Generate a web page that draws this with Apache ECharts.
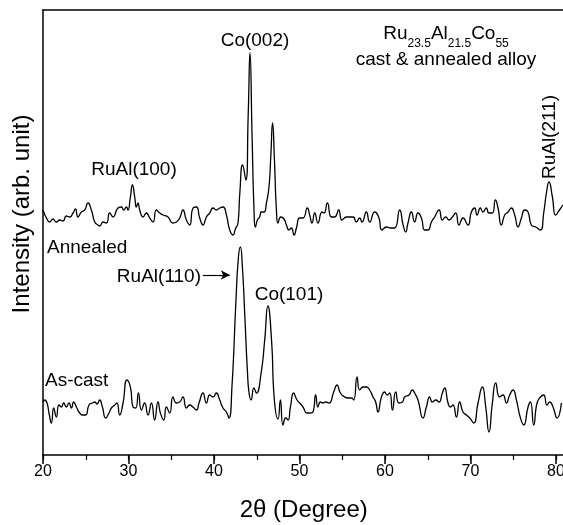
<!DOCTYPE html>
<html>
<head>
<meta charset="utf-8">
<script src="https://cdn.jsdelivr.net/npm/echarts@6/dist/echarts.min.js"></script>
<style>
  html, body { margin: 0; padding: 0; background: #fff; }
  #chart { width: 563px; height: 525px; }
</style>
</head>
<body>
<div id="chart"></div>
<script>
// XRD scans of the Ru23.5Al21.5Co55 alloy: [2θ (deg), intensity (arb. unit)]
const annealedScan = [
  [20.00,245],[20.40,237],[20.78,233],[21.17,236],[21.56,233],[21.95,235],[22.34,234],[22.73,239],
  [23.12,238],[23.51,242],[23.79,246],[24.09,238],[24.49,243],[24.88,245],[25.26,252],[25.66,245],
  [26.05,233],[26.43,230],[26.63,229],[27.02,233],[27.42,232],[27.80,242],[28.19,238],[28.77,247],
  [29.17,248],[29.44,245],[29.75,248],[29.94,245],[30.22,258],[30.46,270],[30.73,258],[30.92,248],
  [31.11,252],[31.31,245],[31.70,238],[32.09,242],[32.48,237],[32.87,233],[33.26,245],[33.65,242],
  [34.04,240],[34.62,238],[35.20,232],[35.60,233],[35.99,237],[36.37,245],[36.77,235],[37.16,230],
  [37.55,247],[37.94,248],[38.33,237],[38.72,230],[39.11,238],[39.50,242],[39.89,247],[40.28,245],
  [40.67,247],[41.06,248],[41.45,240],[41.84,225],[42.23,220],[42.50,226],[42.81,232],[43.02,262],
  [43.35,290],[43.72,275],[44.00,340],[44.21,402],[44.45,320],[44.68,245],[44.84,228],[45.08,235],
  [45.34,238],[45.54,243],[45.85,243],[46.13,252],[46.43,268],[46.65,300],[46.85,332],[47.07,295],
  [47.30,245],[47.49,232],[47.80,238],[48.19,236],[48.47,230],[48.77,225],[49.05,227],[49.36,220],
  [49.64,227],[50.02,237],[50.41,237],[50.92,247],[51.19,240],[51.46,232],[51.78,242],[52.16,232],
  [52.63,243],[52.87,242],[53.26,252],[53.73,238],[54.12,238],[54.58,245],[54.97,235],[55.49,238],
  [56.26,238],[56.65,233],[57.04,237],[57.31,233],[57.82,243],[58.21,233],[58.80,243],[59.26,238],
  [59.65,225],[60.16,228],[60.67,227],[61.13,227],[61.72,245],[62.12,230],[62.42,223],[62.69,232],
  [63.09,243],[63.47,233],[63.86,242],[64.26,237],[64.64,225],[65.03,225],[65.43,233],[65.81,238],
  [66.32,245],[66.71,235],[67.10,238],[67.49,235],[67.88,238],[68.27,242],[68.65,230],[69.12,237],
  [69.71,230],[70.10,243],[70.49,247],[70.76,240],[71.16,247],[71.46,243],[71.85,247],[72.16,242],
  [72.56,242],[72.91,255],[73.22,247],[73.61,230],[74.00,240],[74.39,243],[74.78,247],[75.17,240],
  [75.56,228],[75.95,237],[76.34,245],[76.73,243],[77.12,230],[77.62,228],[78.18,225],[78.56,242],
  [78.88,262],[79.18,273],[79.58,258],[79.96,240],[80.40,245],[80.80,250]
];

const asCastScan = [
  [20.00,53],[20.20,55],[20.47,52],[20.70,42],[20.98,32],[21.25,47],[21.56,38],[21.87,50],
  [22.15,48],[22.42,52],[22.73,48],[23.04,52],[23.32,47],[23.59,53],[23.91,48],[24.21,43],
  [24.61,40],[24.99,40],[25.38,50],[25.78,52],[26.05,53],[26.32,51],[26.63,55],[26.95,48],
  [27.33,37],[27.72,42],[28.00,47],[28.39,50],[28.65,52],[28.97,40],[29.36,52],[29.82,75],
  [30.22,68],[30.53,48],[30.84,47],[31.16,62],[31.51,45],[31.89,52],[32.28,40],[32.68,52],
  [33.06,35],[33.45,53],[33.73,42],[34.12,35],[34.43,48],[34.82,42],[35.20,58],[35.60,52],
  [35.99,53],[36.37,58],[36.77,47],[37.16,50],[37.54,48],[37.94,45],[38.25,52],[38.71,62],
  [39.11,52],[39.50,60],[39.88,58],[40.28,62],[40.67,55],[41.05,47],[41.45,43],[41.75,37],
  [42.10,68],[42.57,155],[42.86,198],[43.08,208],[43.32,188],[43.61,138],[43.92,82],[44.10,62],
  [44.33,55],[44.67,67],[44.96,62],[45.51,82],[45.93,115],[46.30,149],[46.73,115],[47.06,55],
  [47.49,36],[47.77,55],[48.07,30],[48.39,37],[48.66,35],[48.94,48],[49.32,62],[49.71,55],
  [50.02,52],[50.41,48],[50.88,42],[51.27,42],[51.58,43],[51.89,60],[52.16,48],[52.44,53],
  [52.75,52],[53.06,53],[53.45,52],[54.00,63],[54.39,70],[54.78,62],[55.29,58],[55.67,57],
  [56.07,57],[56.34,55],[56.73,78],[57.04,65],[57.43,68],[57.82,68],[58.21,65],[58.60,58],
  [58.91,53],[59.18,43],[59.58,58],[59.96,63],[60.24,60],[60.55,62],[60.87,45],[61.25,63],
  [61.64,52],[62.04,53],[62.30,58],[62.81,60],[63.20,65],[63.47,62],[63.86,55],[64.44,37],
  [64.84,48],[65.23,58],[65.54,53],[65.93,55],[66.32,53],[66.71,62],[66.98,67],[67.37,52],
  [67.65,48],[67.95,50],[68.35,38],[68.73,53],[69.12,43],[69.52,40],[69.91,37],[70.37,32],
  [70.88,52],[71.39,68],[71.78,48],[72.16,23],[72.56,52],[72.95,72],[73.41,58],[73.80,60],
  [74.20,52],[74.58,60],[74.97,65],[75.37,55],[75.84,37],[76.22,30],[76.73,48],[77.01,53],
  [77.39,30],[77.78,52],[78.18,58],[78.56,60],[78.95,50],[79.26,53],[79.65,48],[80.12,37],
  [80.63,52]
];

// Bottom axis tick labels
const angleTicks = [20, 30, 40, 50, 60, 70, 80];

// Arrow pointing at the RuAl(110) reflection: [start, end] in [2θ, intensity]
const ruAl110Arrow = [[38.7, 180], [41.85, 180]];

const FONT = '"Liberation Sans", Arial, Helvetica, sans-serif';
const LABEL_FONT = '19px ' + FONT;
const chart = echarts.init(document.getElementById('chart'), null, { renderer: 'canvas' });

const gridBox = { left: 43, top: 10, width: 521.55, height: 445 };

function label(text, x, y, align, rotation) {
  return {
    type: 'text', x: x, y: y, rotation: rotation || 0,
    style: { text: text, fill: '#000', font: LABEL_FONT, align: align || 'center', verticalAlign: 'middle' }
  };
}

const option = {
  backgroundColor: '#ffffff',
  animation: false,
  grid: Object.assign({ containLabel: false, outerBoundsMode: 'none' }, gridBox),
  xAxis: [
    {
      type: 'value', min: 20, max: 81, interval: 10, position: 'bottom',
      axisLine: { show: true, lineStyle: { color: '#000', width: 1.5 } },
      axisTick: { show: true, inside: false, length: 9, lineStyle: { color: '#000', width: 1.5 } },
      axisLabel: {
        show: true, margin: 9, color: '#000', fontSize: 16, fontFamily: FONT,
        showMaxLabel: false,
        formatter: v => (angleTicks.indexOf(v) >= 0 ? String(v) : '')
      },
      splitLine: { show: false },
      name: '2\u03b8 (Degree)', nameLocation: 'middle', nameGap: 43,
      nameTextStyle: { color: '#000', fontSize: 24, fontFamily: FONT }
    },
    {
      type: 'value', min: 20, max: 81, interval: 5, position: 'bottom',
      axisLine: { show: false },
      axisTick: { show: true, inside: false, length: 5, lineStyle: { color: '#000', width: 1.2 } },
      axisLabel: { show: false },
      splitLine: { show: false }
    },
    {
      type: 'value', min: 20, max: 81, position: 'top',
      axisLine: { show: true, lineStyle: { color: '#000', width: 1.5 } },
      axisTick: { show: false }, axisLabel: { show: false }, splitLine: { show: false }
    }
  ],
  yAxis: {
    type: 'value', min: 0, max: 445,
    axisLine: { show: true, lineStyle: { color: '#000', width: 1.5 } },
    axisTick: { show: false }, axisLabel: { show: false }, splitLine: { show: false }
  },
  series: [
    {
      name: 'Annealed', type: 'line', xAxisIndex: 0, data: annealedScan,
      showSymbol: false, smooth: 0.55, clip: true,
      lineStyle: { color: '#000', width: 1.3 }
    },
    {
      name: 'As-cast', type: 'line', xAxisIndex: 0, data: asCastScan,
      showSymbol: false, smooth: 0.55, clip: true,
      lineStyle: { color: '#000', width: 1.3 },
      markLine: {
        silent: true, symbol: ['none', 'arrow'], symbolSize: [7, 9],
        label: { show: false },
        lineStyle: { color: '#000', width: 1.2, type: 'solid' },
        data: [[{ coord: ruAl110Arrow[0] }, { coord: ruAl110Arrow[1] }]]
      }
    }
  ],
  graphic: [
    {
      type: 'text', x: 22, y: 214, rotation: Math.PI / 2,
      style: { text: 'Intensity (arb. unit)', fill: '#000', font: '24px ' + FONT, align: 'center', verticalAlign: 'middle' }
    },
    label('Co(002)', 255, 41),
    {
      type: 'text', x: 446, y: 24,
      style: {
        text: '{m|Ru}{s|23.5}{m|Al}{s|21.5}{m|Co}{s|55}',
        align: 'center', verticalAlign: 'top',
        rich: {
          m: { fontSize: 19, fontFamily: FONT, fill: '#000', color: '#000', lineHeight: 19, verticalAlign: 'top' },
          s: { fontSize: 12, fontFamily: FONT, fill: '#000', color: '#000', lineHeight: 12, verticalAlign: 'top', padding: [14, 0, 0, 0] }
        }
      }
    },
    label('cast & annealed alloy', 446, 60),
    label('RuAl(100)', 134, 170),
    label('RuAl(211)', 550, 137, 'center', Math.PI / 2),
    label('Annealed', 47, 248, 'left'),
    label('RuAl(110)', 201, 277, 'right'),
    label('Co(101)', 289, 295),
    label('As-cast', 45, 381, 'left')
  ]
};

chart.setOption(option);
</script>
</body>
</html>
